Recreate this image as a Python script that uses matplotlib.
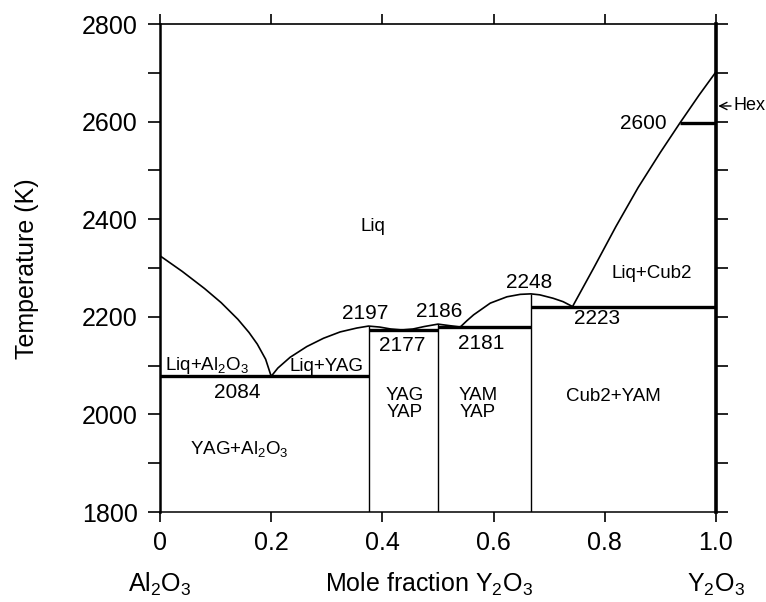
import matplotlib
matplotlib.use("Agg")
import matplotlib.pyplot as plt
import matplotlib.transforms as mtransforms

plt.rcParams['font.family'] = ['Liberation Sans', 'DejaVu Sans']
plt.rcParams['mathtext.fontset'] = 'custom'
plt.rcParams['mathtext.rm'] = 'Liberation Sans'
plt.rcParams['mathtext.it'] = 'Liberation Sans:italic'

# liquidus (mole fraction Y2O3, K)
liq_x = [0, 0.04, 0.08, 0.11, 0.14, 0.16, 0.175, 0.19, 0.2,
         0.212, 0.234, 0.264, 0.294, 0.324, 0.354, 0.375,
         0.395, 0.415, 0.435, 0.455, 0.475, 0.5,
         0.52, 0.54,
         0.552, 0.564, 0.594, 0.624, 0.648, 0.667,
         0.683, 0.707, 0.725, 0.742,
         0.78, 0.82, 0.86, 0.90, 0.935, 0.97, 1.0]
liq_t = [2325, 2293, 2258, 2229, 2195, 2168, 2144, 2113, 2078,
         2095, 2117, 2139, 2156, 2169, 2177, 2181,
         2179, 2175, 2173, 2175, 2180, 2185,
         2182, 2179,
         2192, 2204, 2228, 2241, 2246, 2247,
         2245, 2238, 2231, 2221,
         2300, 2385, 2465, 2537, 2597, 2655, 2702]

# invariant (eutectic / transition) lines
eut_t = [2078, 2173, 2179, 2221, 2597]
eut_x0 = [0, 0.375, 0.5, 0.667, 0.935]
eut_x1 = [0.375, 0.5, 0.667, 1.0, 1.0]

# compound lines
comp_x = [0.375, 0.5, 0.667]
comp_top = [2181, 2185, 2247]

# temperature labels
num_txt = ["2197", "2186", "2177", "2181", "2248", "2223", "2084", "2600"]
num_x = [0.369, 0.502, 0.435, 0.577, 0.664, 0.786, 0.139, 0.869]
num_t = [2206, 2210, 2142, 2146, 2271, 2196, 2044, 2597]

# phase labels
ph_txt = ["Liq", "Liq+Al$_2$O$_3$", "Liq+YAG", "YAG\nYAP", "YAM\nYAP",
          "Cub2+YAM", "YAG+Al$_2$O$_3$", "Liq+Cub2"]
ph_x = [0.383, 0.085, 0.30, 0.44, 0.572, 0.815, 0.142, 0.885]
ph_t = [2386, 2100, 2098, 2022, 2022, 2036, 1929, 2289]

fig = plt.figure(figsize=(7.66, 6.02), dpi=100)
ax = fig.add_axes([160/766, 1-512/602, 556/766, 488/602])

ax.plot(liq_x, liq_t, color="black", lw=1.2)
ax.hlines(eut_t, eut_x0, eut_x1, color="black", lw=2.4)
ax.vlines(comp_x, 1800, comp_top, color="black", lw=1.0)

for s, x, t in zip(num_txt, num_x, num_t):
    ax.text(x, t, s, ha="center", va="center", fontsize=15)
for s, x, t in zip(ph_txt, ph_x, ph_t):
    ax.text(x, t, s, ha="center", va="center", fontsize=13.5, linespacing=1.0)

ax.annotate("Hex", xy=(1.004, 2632), xytext=(1.032, 2632), ha="left", va="center",
            fontsize=13, annotation_clip=False,
            arrowprops=dict(arrowstyle="->", lw=1.0, color="black",
                            shrinkA=0, shrinkB=0))

ax.set_xlim(0, 1.0)
ax.set_ylim(1800, 2800)
ax.set_xticks([0, 0.2, 0.4, 0.6, 0.8, 1.0])
ax.set_xticklabels(["0", "0.2", "0.4", "0.6", "0.8", "1.0"])
ax.set_yticks([1800, 2000, 2200, 2400, 2600, 2800])
ax.set_yticks(range(1900, 2800, 200), minor=True)

ax.tick_params(axis="both", which="both", direction="out", labelsize=18,
               colors="black", width=1.2)
ax.tick_params(axis="x", which="both", top=True, length=7.5, pad=6)
ax.tick_params(axis="y", which="both", right=True, length=8.5, pad=7.5)

ax.spines["left"].set_linewidth(1.8)
ax.spines["right"].set_linewidth(2.6)
ax.spines["top"].set_linewidth(1.2)
ax.spines["bottom"].set_linewidth(1.1)

trans = mtransforms.blended_transform_factory(ax.transData, ax.transAxes)
ax.text(0.0, -0.164, "Al$_2$O$_3$", transform=trans, ha="center", va="baseline", fontsize=18)
ax.text(0.484, -0.164, "Mole fraction Y$_2$O$_3$", transform=trans, ha="center",
        va="baseline", fontsize=18)
ax.text(1.0, -0.164, "Y$_2$O$_3$", transform=trans, ha="center", va="baseline", fontsize=18)

fig.text(27.5/766, 1-269/602, "Temperature (K)", rotation=90, ha="center",
         va="center", fontsize=18)

fig.savefig("out.png", dpi=100)
